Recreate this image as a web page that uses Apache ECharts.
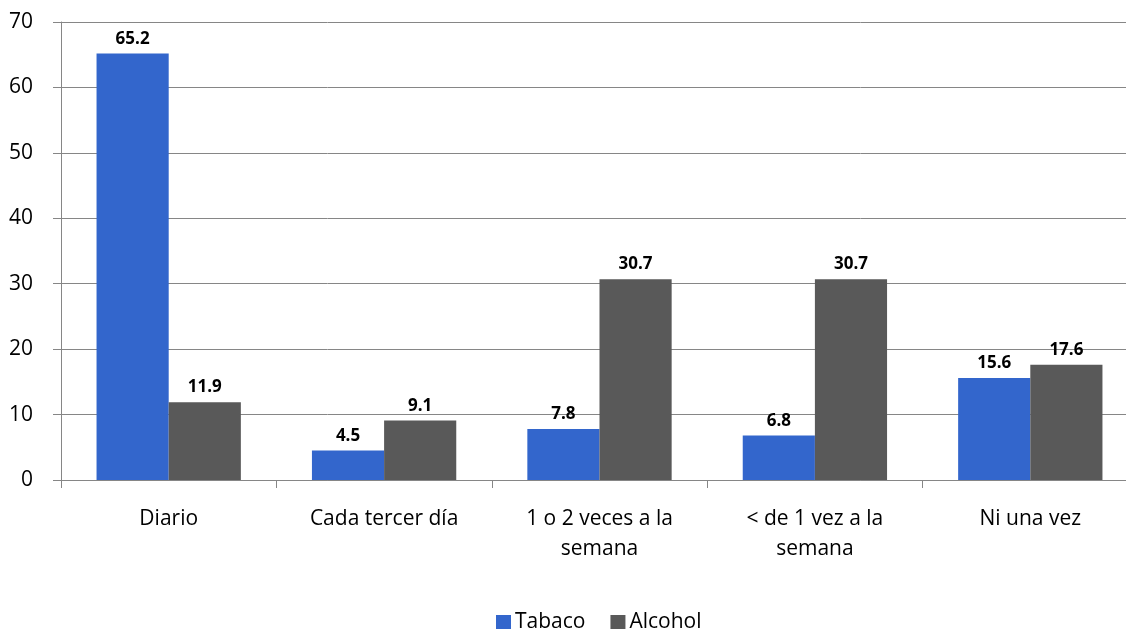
<!DOCTYPE html>
<html>
<head>
<meta charset="utf-8">
<script src="https://cdn.jsdelivr.net/npm/echarts@6/dist/echarts.min.js"></script>
<style>
  html, body { margin: 0; padding: 0; background: #ffffff; overflow: hidden; }
  #chart { width: 1126px; height: 629px; }
</style>
</head>
<body>
<div id="chart"></div>
<script>
// Frecuencia de consumo (%)
const categories = ['Diario', 'Cada tercer día', '1 o 2 veces a la\nsemana', '< de 1 vez a la\nsemana', 'Ni una vez'];
const tabaco = [65.2, 4.5, 7.8, 6.8, 15.6];
const alcohol = [11.9, 9.1, 30.7, 30.7, 17.6];
const yTicks = { min: 0, max: 70, interval: 10 };

const font = "'Open Sans', 'Noto Sans', sans-serif";
const chart = echarts.init(document.getElementById('chart'));

const labelStyle = {
  show: true,
  position: 'top',
  distance: 6,
  fontFamily: font,
  fontWeight: 'bold',
  fontSize: 17,
  color: '#000'
};

chart.setOption({
  animation: false,
  // the plot runs a little past the right edge of the canvas
  grid: { left: 61, width: 1077, top: 22, bottom: 149, containLabel: false, outerBoundsMode: 'none' },
  legend: {
    top: 607,
    left: 491,
    itemWidth: 15,
    itemHeight: 15,
    itemGap: 25,
    icon: 'rect',
    textStyle: { fontFamily: font, fontSize: 21, color: '#000', padding: [0, 0, 0, -1] },
    data: ['Tabaco', 'Alcohol']
  },
  xAxis: {
    type: 'category',
    data: categories,
    axisLine: { lineStyle: { color: '#868686', width: 1 } },
    axisTick: { show: true, alignWithLabel: false, length: 8, lineStyle: { color: '#868686' } },
    axisLabel: { fontFamily: font, fontSize: 21, color: '#000', margin: 24, lineHeight: 30, interval: 0 }
  },
  yAxis: {
    type: 'value',
    min: yTicks.min,
    max: yTicks.max,
    interval: yTicks.interval,
    axisLine: { show: true, lineStyle: { color: '#868686' } },
    axisTick: { show: true, length: 8, inside: false, lineStyle: { color: '#868686' } },
    splitLine: { lineStyle: { color: '#868686', width: 1 } },
    axisLabel: { fontFamily: font, fontSize: 21, color: '#000', margin: 28 }
  },
  series: [
    {
      name: 'Tabaco',
      type: 'bar',
      data: tabaco,
      barGap: '0%',
      barCategoryGap: '33%',
      itemStyle: { color: '#3366CC' },
      label: labelStyle
    },
    {
      name: 'Alcohol',
      type: 'bar',
      data: alcohol,
      barGap: '0%',
      barCategoryGap: '33%',
      itemStyle: { color: '#595959' },
      label: labelStyle
    }
  ]
});
</script>
</body>
</html>
